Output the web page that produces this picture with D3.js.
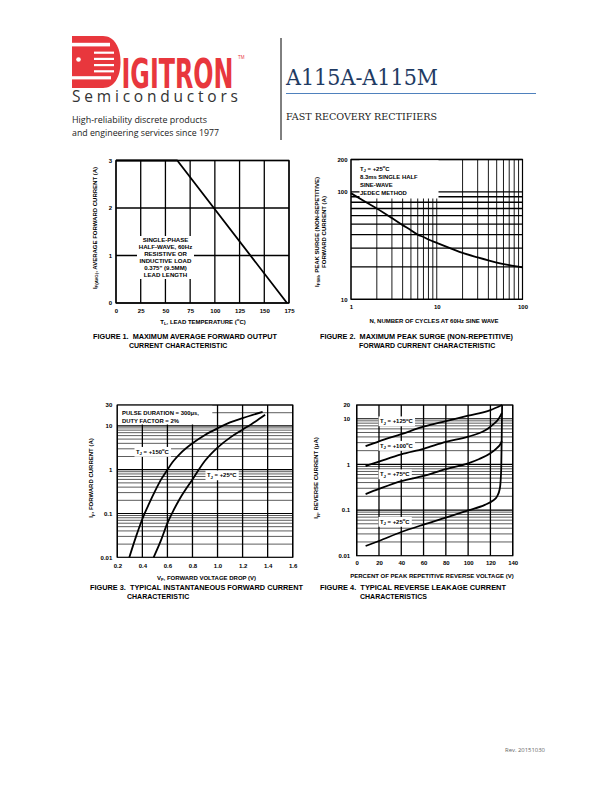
<!DOCTYPE html>
<html><head><meta charset="utf-8">
<script src="https://cdn.jsdelivr.net/npm/d3@7/dist/d3.min.js"></script>
<style>body{margin:0;background:#fff}</style>
</head><body>
<svg id="page" width="612" height="792" xmlns="http://www.w3.org/2000/svg"></svg>
<script>
// ================= DATA =================
// Figure 1
const fig1XTicks = [0, 25, 50, 75, 100, 125, 150, 175];
const fig1YTicks = [0, 1, 2, 3];
const fig1Temp = [0, 62, 173];
const fig1Current = [3, 3, 0];
const fig1BoxLines = ["SINGLE-PHASE", "HALF-WAVE, 60Hz", "RESISTIVE OR", "INDUCTIVE LOAD", "0.375\" (9.5MM)", "LEAD LENGTH"];

// Figure 2
const fig2XTickLabels = [1, 10, 100];
const fig2YTickLabels = [10, 100, 200];
const fig2Cycles = [1, 1.5, 2, 3, 4, 5, 6, 7, 8, 10, 15, 20, 30, 40, 50, 70, 100];
const fig2Surge  = [97, 80, 70, 57, 49, 44, 40, 38, 36, 33.5, 29.5, 27, 24.5, 23, 22, 20.8, 19.8];
const fig2BoxLines = ["8.3ms SINGLE HALF", "SINE-WAVE", "JEDEC METHOD"];

// Figure 3
const fig3XTicks = [0.2, 0.4, 0.6, 0.8, 1.0, 1.2, 1.4, 1.6];
const fig3YTickLabels = [0.01, 0.1, 1, 10, 30];
const fig3V150 = [0.296, 0.35, 0.4, 0.45, 0.5, 0.55, 0.6, 0.65, 0.7, 0.8, 0.9, 1.0, 1.1, 1.2, 1.36];
const fig3I150 = [0.01, 0.03, 0.075, 0.16, 0.32, 0.6, 1.0, 1.6, 2.3, 4.0, 6.2, 8.8, 12, 15, 21];
const fig3V25  = [0.49, 0.55, 0.6, 0.65, 0.7, 0.8, 0.9, 1.0, 1.1, 1.2, 1.3, 1.38];
const fig3I25  = [0.01, 0.025, 0.06, 0.12, 0.22, 0.6, 1.6, 3.2, 5.4, 8.2, 12.5, 18];

// Figure 4
const fig4XTicks = [0, 20, 40, 60, 80, 100, 120, 140];
const fig4YTickLabels = [0.01, 0.1, 1, 10, 20];
const fig4Pct125 = [8, 20, 40, 60, 80, 100, 120, 130.5];
const fig4I125   = [2.5, 3.2, 4.6, 6.7, 8.9, 11.7, 15.5, 20];
const fig4Pct100 = [8, 20, 40, 60, 80, 100, 115, 120, 125, 128, 130.3];
const fig4I100   = [0.92, 1.15, 1.66, 2.2, 3.1, 4.05, 5.5, 6.7, 8.5, 10.5, 13.5];
const fig4Pct75  = [8, 20, 40, 60, 80, 100, 110, 120, 126, 129, 130.3];
const fig4I75    = [0.224, 0.29, 0.43, 0.56, 0.79, 1.05, 1.31, 1.75, 2.3, 2.8, 3.3];
const fig4Pct25  = [8, 20, 40, 60, 80, 100, 115, 122, 126, 128.5, 129.7, 130.2, 130.5];
const fig4I25    = [0.0163, 0.021, 0.033, 0.048, 0.068, 0.098, 0.13, 0.16, 0.2, 0.3, 0.8, 5, 20];

// ================= DRAWING =================
const svg = d3.select("#page");
svg.append("rect").attr("width", 612).attr("height", 792).attr("fill", "#fff");
const SANS = "'Liberation Sans', Arial, Helvetica, sans-serif";
const RED = "#e8373d";

// ---- header / logo ----
const logo = svg.append("g");
logo.append("path")
  .attr("d", "M72,36 H103 C114,36 120.5,47 120.5,62 C120.5,77 114,88 103,88 H72 Z")
  .attr("fill", RED);
[[72, 42.8, 38, 3.6], [72, 76.2, 39, 3.2]].forEach(r =>
  logo.append("rect").attr("x", r[0]).attr("y", r[1]).attr("width", r[2]).attr("height", r[3]).attr("fill", "#fff"));
[[94, 51.6], [94, 57.8], [94, 64.0], [94, 70.2]].forEach(r =>
  logo.append("rect").attr("x", r[0]).attr("y", r[1]).attr("width", 20).attr("height", 2.2).attr("fill", "#fff"));
logo.append("circle").attr("cx", 78.5).attr("cy", 59.5).attr("r", 2.3).attr("fill", "#fff");
{
  const t = logo.append("text").attr("x", 0).attr("y", 0).text("IGITRON")
    .attr("font-family", "'DejaVu Sans Condensed', 'DejaVu Sans', sans-serif").attr("font-weight", "bold")
    .attr("font-size", 40).attr("fill", RED);
  const natural = t.node().getComputedTextLength();
  t.attr("transform", `translate(121.5,88) scale(${112 / natural},1)`);
}
logo.append("text").attr("x", 238).attr("y", 59).text("TM")
  .attr("font-family", SANS).attr("font-size", 4.5).attr("fill", RED);
logo.append("text").attr("x", 72).attr("y", 102).text("Semiconductors")
  .attr("font-family", "'Open Sans', 'DejaVu Sans', sans-serif").attr("font-size", 15.5)
  .attr("fill", "#333").attr("textLength", 166).attr("lengthAdjust", "spacing");
logo.append("text").attr("x", 72).attr("y", 123).text("High-reliability discrete products")
  .attr("font-family", "'Open Sans', sans-serif").attr("font-size", 9).attr("fill", "#222")
  .attr("textLength", 135).attr("lengthAdjust", "spacingAndGlyphs");
logo.append("text").attr("x", 72).attr("y", 135.5).text("and engineering services since 1977")
  .attr("font-family", "'Open Sans', sans-serif").attr("font-size", 9).attr("fill", "#222")
  .attr("textLength", 147).attr("lengthAdjust", "spacingAndGlyphs");

svg.append("line").attr("x1", 281).attr("x2", 281).attr("y1", 38).attr("y2", 140)
  .attr("stroke", "#000").attr("stroke-width", 1);
svg.append("text").attr("x", 286).attr("y", 84.5).text("A115A-A115M")
  .attr("font-family", "'DejaVu Serif', 'Liberation Serif', serif").attr("font-size", 22)
  .attr("fill", "#1f3b63").attr("textLength", 152).attr("lengthAdjust", "spacingAndGlyphs");
svg.append("line").attr("x1", 286).attr("x2", 536).attr("y1", 93.5).attr("y2", 93.5)
  .attr("stroke", "#4f81bd").attr("stroke-width", 1.2);
svg.append("text").attr("x", 286).attr("y", 120).text("FAST RECOVERY RECTIFIERS")
  .attr("font-family", "'DejaVu Serif', 'Liberation Serif', serif").attr("font-size", 9.5)
  .attr("fill", "#222").attr("textLength", 151).attr("lengthAdjust", "spacingAndGlyphs");

svg.append("text").attr("x", 505).attr("y", 752).text("Rev. 20151030")
  .attr("font-family", "'Open Sans', sans-serif").attr("font-size", 5.5).attr("fill", "#666")
  .attr("textLength", 40).attr("lengthAdjust", "spacingAndGlyphs");

// ---- helpers ----
function rich(sel, parts, size) {
  let off = 0;
  parts.forEach(([t, mode]) => {
    const ts = sel.append("tspan").text(t);
    let target = 0;
    if (mode === "sub") { ts.attr("font-size", size * 0.72); target = size * 0.3; }
    if (mode === "sup") { ts.attr("font-size", size * 0.72); target = -size * 0.35; }
    if (target - off !== 0) ts.attr("dy", target - off);
    off = target;
  });
}
function label(g, x, y, parts, opts = {}) {
  const size = opts.size || 6;
  const t = g.append("text").attr("x", x).attr("y", y)
    .attr("font-family", SANS).attr("font-weight", "bold").attr("font-size", size)
    .attr("fill", "#000").attr("text-anchor", opts.anchor || "start")
    .style("white-space", "pre");
  if (opts.rotate) t.attr("transform", `rotate(-90 ${x} ${y})`);
  if (opts.len) t.attr("textLength", opts.len).attr("lengthAdjust", "spacingAndGlyphs");
  rich(t, parts, size);
  return t;
}
function bgLabel(g, x, y, parts, size) {
  const grp = g.append("g");
  const t = label(grp, x, y, parts, { size });
  const b = t.node().getBBox();
  grp.insert("rect", "text").attr("x", b.x - 1.5).attr("y", b.y - 0.5)
    .attr("width", b.width + 3).attr("height", b.height + 1).attr("fill", "#fff");
}
function vgrid(g, vals, x, y0, y1, w, color) {
  g.append("g").selectAll("line").data(vals).join("line")
    .attr("x1", d => x(d)).attr("x2", d => x(d)).attr("y1", y0).attr("y2", y1)
    .attr("stroke", color || "#000").attr("stroke-width", w);
}
function hgrid(g, vals, y, x0, x1, w, color) {
  g.append("g").selectAll("line").data(vals).join("line")
    .attr("y1", d => y(d)).attr("y2", d => y(d)).attr("x1", x0).attr("x2", x1)
    .attr("stroke", color || "#000").attr("stroke-width", w);
}
function frame(g, x, y) {
  const [xa, xb] = x.range(), [ya, yb] = y.range();
  g.append("rect").attr("x", xa).attr("y", yb).attr("width", xb - xa).attr("height", ya - yb)
    .attr("fill", "none").attr("stroke", "#000").attr("stroke-width", 1.2);
}
function styleAxis(a) {
  a.select(".domain").remove();
  a.selectAll("text").attr("font-family", SANS).attr("font-weight", "bold")
    .attr("font-size", 6).attr("fill", "#000");
}
function curve(g, xs, ys, x, y, interp) {
  g.append("path").datum(d3.zip(xs, ys))
    .attr("d", d3.line().x(d => x(d[0])).y(d => y(d[1])).curve(interp || d3.curveLinear))
    .attr("fill", "none").attr("stroke", "#000").attr("stroke-width", 1.8)
    .attr("stroke-linejoin", "round");
}
function caption(g, x, y, l1, x2, l2, len1) {
  label(g, x, y, [[l1]], { size: 7, len: len1 });
  label(g, x2, y + 9.3, [[l2]], { size: 7 });
}

// ================= FIGURE 1 =================
{
  const g = svg.append("g");
  const x = d3.scaleLinear().domain([0, 175]).range([116, 289]);
  const y = d3.scaleLinear().domain([0, 3]).range([303, 160.5]);
  vgrid(g, fig1XTicks, x, y(0), y(3), 1.3);
  hgrid(g, fig1YTicks, y, x(0), x(175), 1.3);
  g.append("rect").attr("x", 137).attr("y", 236).attr("width", 57).attr("height", 43).attr("fill", "#fff");
  frame(g, x, y);
  curve(g, fig1Temp, fig1Current, x, y);
  fig1BoxLines.forEach((s, i) => label(g, 165.5, 242 + i * 6.9, [[s]], { size: 6.1, anchor: "middle" }));
  styleAxis(g.append("g").attr("transform", "translate(0,303)")
    .call(d3.axisBottom(x).tickValues(fig1XTicks).tickSize(0).tickPadding(5.5).tickFormat(d3.format("d"))));
  styleAxis(g.append("g").attr("transform", "translate(116,0)")
    .call(d3.axisLeft(y).tickValues(fig1YTicks).tickSize(0).tickPadding(4).tickFormat(d3.format("d"))));
  label(g, 203, 323.5, [["T"], ["L", "sub"], [", LEAD TEMPERATURE ("], ["o", "sup"], ["C)"]], { size: 6, anchor: "middle" });
  label(g, 96.5, 228, [["I"], ["F(AVG)", "sub"], [", AVERAGE FORWARD CURRENT (A)"]], { size: 6, anchor: "middle", rotate: true });
  caption(g, 93, 339, "FIGURE 1.  MAXIMUM AVERAGE FORWARD OUTPUT", 129, "CURRENT CHARACTERISTIC", 184);
}

// ================= FIGURE 2 =================
{
  const g = svg.append("g");
  const x = d3.scaleLog().domain([1, 100]).range([351, 522.5]);
  const y = d3.scaleLog().domain([10, 200]).range([299.3, 159.5]);
  vgrid(g, x.ticks(), x, y(10), y(200), 0.9);
  hgrid(g, y.ticks(), y, x(1), x(100), 1.3);
  g.append("rect").attr("x", 359.5).attr("y", 159.5).attr("width", 79).attr("height", 39).attr("fill", "#fff");
  frame(g, x, y);
  curve(g, fig2Cycles, fig2Surge, x, y, d3.curveMonotoneX);
  label(g, 360, 170.5, [["T"], ["J", "sub"], [" = +25"], ["o", "sup"], ["C"]], { size: 5.9 });
  fig2BoxLines.forEach((s, i) => label(g, 360, 179 + i * 7.8, [[s]], { size: 5.9 }));
  styleAxis(g.append("g").attr("transform", "translate(0,299.3)")
    .call(d3.axisBottom(x).tickValues(fig2XTickLabels).tickSize(0).tickPadding(5.5).tickFormat(d3.format("d"))));
  styleAxis(g.append("g").attr("transform", "translate(351,0)")
    .call(d3.axisLeft(y).tickValues(fig2YTickLabels).tickSize(0).tickPadding(3.5).tickFormat(d3.format("d"))));
  label(g, 434, 322.5, [["N, NUMBER OF CYCLES AT 60Hz SINE WAVE"]], { size: 6, anchor: "middle" });
  label(g, 318.5, 232, [["I"], ["FSM", "sub"], [", PEAK SURGE (NON-REPETITIVE)"]], { size: 6, anchor: "middle", rotate: true });
  label(g, 325.5, 232, [["FORWARD CURRENT (A)"]], { size: 6, anchor: "middle", rotate: true });
  caption(g, 320, 339, "FIGURE 2.  MAXIMUM PEAK SURGE (NON-REPETITIVE)", 359, "FORWARD CURRENT CHARACTERISTIC", 193);
}

// ================= FIGURE 3 =================
{
  const g = svg.append("g");
  const x = d3.scaleLinear().domain([0.2, 1.6]).range([117.3, 292.7]);
  const y = d3.scaleLog().domain([0.01, 30]).range([557.3, 405]);
  const yt = y.ticks();
  hgrid(g, yt.filter(d => ![0.01, 0.1, 1, 10].includes(d)), y, x(0.2), x(1.6), 0.8, "#333");
  hgrid(g, [0.1, 1, 10], y, x(0.2), x(1.6), 1.2);
  vgrid(g, fig3XTicks, x, y(0.01), y(30), 1.3);
  g.append("rect").attr("x", 117.3).attr("y", 405).attr("width", 95).attr("height", 19.5).attr("fill", "#fff");
  frame(g, x, y);
  curve(g, fig3V150, fig3I150, x, y, d3.curveMonotoneX);
  curve(g, fig3V25, fig3I25, x, y, d3.curveMonotoneX);
  label(g, 122, 414.5, [["PULSE DURATION = 300μs,"]], { size: 5.9 });
  label(g, 122, 422.5, [["DUTY FACTOR = 2%"]], { size: 5.9 });
  bgLabel(g, 136, 453.5, [["T"], ["J", "sub"], [" = +150"], ["o", "sup"], ["C"]], 5.9);
  bgLabel(g, 207, 477, [["T"], ["J", "sub"], [" = +25"], ["o", "sup"], ["C"]], 5.9);
  styleAxis(g.append("g").attr("transform", "translate(0,557.3)")
    .call(d3.axisBottom(x).tickValues(fig3XTicks).tickSize(0).tickPadding(6.5).tickFormat(d3.format(".1f"))));
  styleAxis(g.append("g").attr("transform", "translate(117.3,0)")
    .call(d3.axisLeft(y).tickValues(fig3YTickLabels).tickSize(0).tickPadding(5).tickFormat(d => String(d))));
  label(g, 206.5, 579.5, [["V"], ["F", "sub"], [", FORWARD VOLTAGE DROP (V)"]], { size: 6, anchor: "middle" });
  label(g, 93, 478, [["I"], ["F", "sub"], [", FORWARD CURRENT (A)"]], { size: 6, anchor: "middle", rotate: true });
  caption(g, 90, 589.5, "FIGURE 3.  TYPICAL INSTANTANEOUS FORWARD CURRENT", 127, "CHARACTERISTIC", 213);
}

// ================= FIGURE 4 =================
{
  const g = svg.append("g");
  const x = d3.scaleLinear().domain([0, 140]).range([356.7, 512.7]);
  const y = d3.scaleLog().domain([0.01, 20]).range([555.7, 405]);
  const yt = y.ticks();
  hgrid(g, yt.filter(d => ![0.01, 0.1, 1, 10].includes(d)), y, x(0), x(140), 0.8, "#333");
  hgrid(g, [0.1, 1, 10], y, x(0), x(140), 1.2);
  vgrid(g, fig4XTicks, x, y(0.01), y(20), 1.3);
  frame(g, x, y);
  bgLabel(g, 380, 423, [["T"], ["J", "sub"], [" = +125"], ["o", "sup"], ["C"]], 5.9);
  bgLabel(g, 380, 447.5, [["T"], ["J", "sub"], [" = +100"], ["o", "sup"], ["C"]], 5.9);
  bgLabel(g, 380, 476, [["T"], ["J", "sub"], [" = +75"], ["o", "sup"], ["C"]], 5.9);
  bgLabel(g, 380, 523.5, [["T"], ["J", "sub"], [" = +25"], ["o", "sup"], ["C"]], 5.9);
  curve(g, fig4Pct125, fig4I125, x, y, d3.curveMonotoneX);
  curve(g, fig4Pct100, fig4I100, x, y, d3.curveMonotoneX);
  curve(g, fig4Pct75, fig4I75, x, y, d3.curveMonotoneX);
  curve(g, fig4Pct25, fig4I25, x, y, d3.curveMonotoneX);
  styleAxis(g.append("g").attr("transform", "translate(0,555.7)")
    .call(d3.axisBottom(x).tickValues(fig4XTicks).tickSize(0).tickPadding(5).tickFormat(d3.format("d"))));
  styleAxis(g.append("g").attr("transform", "translate(356.7,0)")
    .call(d3.axisLeft(y).tickValues(fig4YTickLabels).tickSize(0).tickPadding(6.5).tickFormat(d => String(d))));
  label(g, 432, 578, [["PERCENT OF PEAK REPETITIVE REVERSE VOLTAGE (V)"]], { size: 6, anchor: "middle" });
  label(g, 318, 478, [["I"], ["R", "sub"], [", REVERSE CURRENT (μA)"]], { size: 6, anchor: "middle", rotate: true });
  caption(g, 320, 589.5, "FIGURE 4.  TYPICAL REVERSE LEAKAGE CURRENT", 360, "CHARACTERISTICS", 186);
}
</script>
</body></html>
